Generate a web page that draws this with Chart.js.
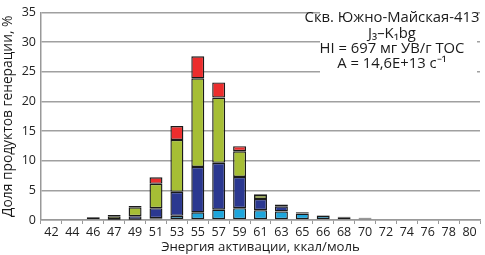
<!DOCTYPE html>
<html><head><meta charset="utf-8">
<script src="https://cdn.jsdelivr.net/npm/chart.js@4"></script>
<style>html,body{margin:0;padding:0;background:#fff}#w{width:485px;height:255px}</style>
</head><body><div id="w"><canvas id="c" width="485" height="255"></canvas></div>
<script>
const categories = ['42','44','46','47','49','51','53','55','57','59','61','63','65','66','68','70','72','74','76','78','80'];
const cyanVals  = [null,null,0,   0.05,0.05,0.3, 0.7, 1.3, 1.75,2.0, 1.65,1.45,1.1, 0.7, 0.45,0.25,null,null,null,null,null];
const blueVals  = [null,null,0.15,0.1, 0.6, 1.7, 4.05,7.65,7.9, 5.27,1.9, 0.85,0.2, 0.1, 0.1, 0.1, null,null,null,null,null];
const greenVals = [null,null,0.25,0.5, 1.5, 4.1, 8.75,14.95,11.0,4.33,0.65,0.25,0.05,0,   0,   0.05,null,null,null,null,null];
const redVals   = [null,null,0.1, 0.2, 0.2, 1.1, 2.35,3.7, 2.55,0.85,0.15,0.05,0,   0,   0,   0,   null,null,null,null,null];
const yTicks = [0,5,10,15,20,25,30,35];
const noteLines = ['Скв. Южно-Майская-413','J₃–K₁bg','HI = 697 мг УВ/г ТОС','A = 14,6E+13 с⁻¹'];

const FONT = 'Open Sans';
const notePlugin = {
  id:'note',
  afterDraw(chart){
    const ctx = chart.ctx;
    ctx.save();
    ctx.fillStyle = '#fff';
    ctx.fillRect(320, 10, 157, 66);
    ctx.fillStyle = '#1a1a1a';
    ctx.font = '14.8px "' + FONT + '"';
    ctx.textAlign = 'center';
    ctx.textBaseline = 'middle';
    const cx = 392;
    noteLines.forEach((t,i)=>{ ctx.fillText(t, cx, 18 + i*15.3); });
    ctx.restore();
  }
};
const mk = (label, data, color) => ({label, data, backgroundColor: color, borderColor:'#1a1a1a', borderWidth:1.4, borderSkipped:false});
new Chart(document.getElementById('c'), {
  type:'bar',
  data:{labels:categories, datasets:[
    mk('c', cyanVals, '#1ea6dc'),
    mk('b', blueVals, '#2b3890'),
    mk('g', greenVals, '#a6be35'),
    mk('r', redVals, '#ec2d2d')
  ]},
  options:{
    responsive:false, animation:false, devicePixelRatio:1,
    layout:{padding:{left:0,right:5,top:0,bottom:0}},
    plugins:{legend:{display:false}, tooltip:{enabled:false}},
    datasets:{bar:{categoryPercentage:1, barPercentage:0.62}},
    scales:{
      x:{stacked:true, offset:true,
        grid:{display:true, drawOnChartArea:false, offset:true, tickLength:4, color:'#999'},
        border:{display:true, color:'#999', width:1.5},
        ticks:{color:'#222', font:{family:FONT, size:12.5}, padding:1, maxRotation:0, autoSkip:false},
        title:{display:true, text:'Энергия активации, ккал/моль', color:'#1a1a1a', font:{family:FONT, size:13.2}, padding:{top:0,bottom:0}},
        afterFit(s){ s.height = 35; }
      },
      y:{stacked:true, min:0, max:35,
        afterBuildTicks(s){ s.ticks = yTicks.map(v=>({value:v})); },
        grid:{color:'#a0a0a0', lineWidth:1.5, drawTicks:false},
        border:{display:true, color:'#999', width:1.5},
        ticks:{color:'#222', font:{family:FONT, size:12.5}, padding:5},
        title:{display:true, text:'Доля продуктов генерации, %', color:'#1a1a1a', font:{family:FONT, size:13.8}, padding:{top:0,bottom:0}},
        afterFit(s){ s.width = 41; }
      }
    }
  },
  plugins:[notePlugin]
});
</script></body></html>
